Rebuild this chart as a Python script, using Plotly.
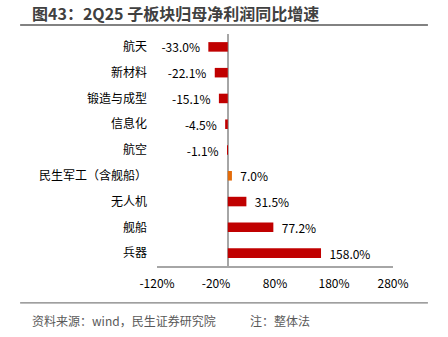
import plotly.graph_objects as go

categories = ["航天", "新材料", "锻造与成型", "信息化", "航空", "民生军工（含舰船）", "无人机", "舰船", "兵器"]
values = [-33.0, -22.1, -15.1, -4.5, -1.1, 7.0, 31.5, 77.2, 158.0]
colors = ["#C00000"] * 5 + ["#E46C0A"] + ["#C00000"] * 3
tick_vals = [-120, -20, 80, 180, 280]
tick_text = ["-120%", "-20%", "80%", "180%", "280%"]

font = "Noto Sans CJK SC, Microsoft YaHei, sans-serif"
pad = "\u00a0\u00a0"
labels = [(f"{v:.1f}%" + pad) if v < 0 else (pad + f"{v:.1f}%") for v in values]

fig = go.Figure(go.Bar(
    y=categories, x=values, orientation="h",
    marker=dict(color=colors, line=dict(width=0)),
    text=labels, textposition="outside",
    constraintext="none",
    textfont=dict(size=12, color="#000000", family=font),
    cliponaxis=False,
))

fig.update_layout(
    width=448, height=337,
    margin=dict(l=157, r=55, t=34, b=71),
    paper_bgcolor="white", plot_bgcolor="white",
    bargap=0.63, showlegend=False,
    font=dict(family=font, size=12, color="#000000"),
    xaxis=dict(range=[-120, 280], tickvals=tick_vals, ticktext=tick_text,
               showgrid=False, zeroline=True, zerolinecolor="#A6A6A6", zerolinewidth=1.5,
               showline=True, linecolor="#A6A6A6", linewidth=1.5, ticks="",
               ticklabelstandoff=6,
               tickfont=dict(size=12, color="#000000"), fixedrange=True),
    yaxis=dict(autorange="reversed", showgrid=False, showline=False, ticks="",
               ticklabelstandoff=9, tickfont=dict(size=12, color="#000000"), fixedrange=True),
    shapes=[
        dict(type="line", xref="paper", yref="paper", x0=-0.58, x1=1.148, y0=1.039, y1=1.039,
             line=dict(color="#595959", width=1.5)),
        dict(type="line", xref="paper", yref="paper", x0=-0.58, x1=1.148, y0=-0.159, y1=-0.159,
             line=dict(color="#7F7F7F", width=1.2)),
    ],
    annotations=[
        dict(text="<b>图43：2Q25 子板块归母净利润同比增速</b>", xref="paper", yref="paper",
             x=-0.538, y=1.09, xanchor="left", yanchor="middle", showarrow=False,
             font=dict(size=16, color="#404040", family=font)),
        dict(text="资料来源：wind，民生证券研究院", xref="paper", yref="paper",
             x=-0.538, y=-0.237, xanchor="left", yanchor="middle", showarrow=False,
             font=dict(size=12, color="#595959", family=font)),
        dict(text="注：整体法", xref="paper", yref="paper",
             x=0.386, y=-0.237, xanchor="left", yanchor="middle", showarrow=False,
             font=dict(size=12, color="#595959", family=font)),
    ],
)

fig.write_html("out.html")
